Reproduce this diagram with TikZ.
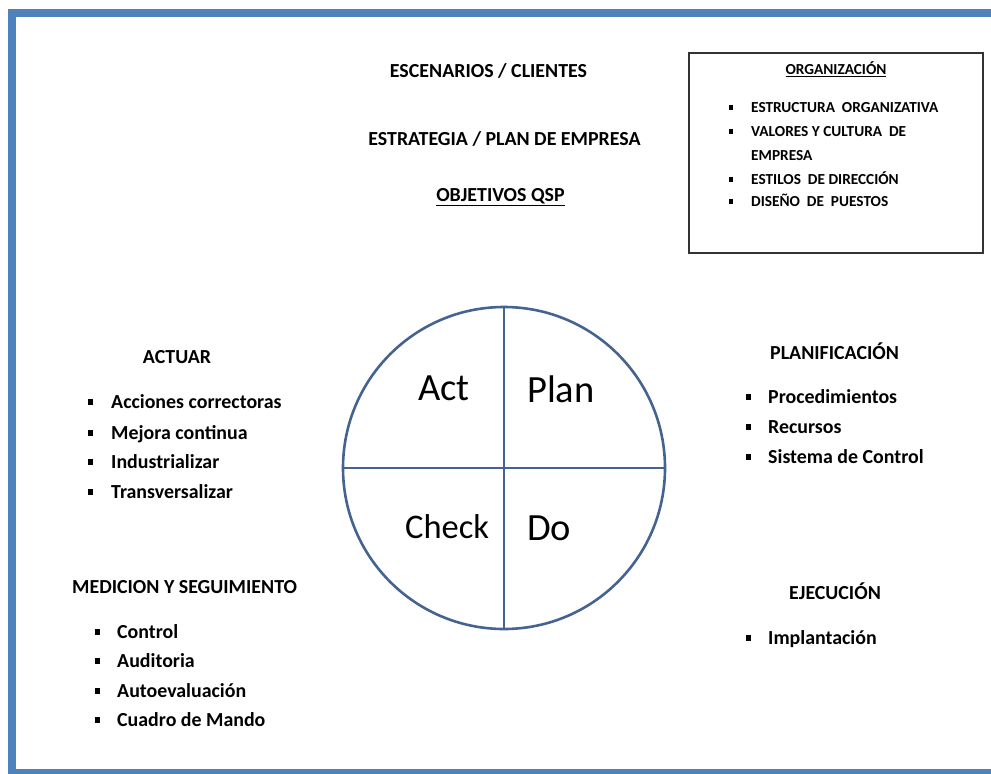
\documentclass[tikz,border=0pt]{standalone}
\usepackage{fontspec}
\setmainfont{Carlito}
\definecolor{frameblue}{RGB}{79,129,189}
\definecolor{circblue}{RGB}{68,100,143}
\tikzset{
 hd/.style={font=\fontsize{19.9}{23}\selectfont\bfseries, inner sep=0pt},
 itm/.style={font=\fontsize{19.9}{23}\selectfont\bfseries, inner sep=0pt, anchor=base west},
 bul/.style={fill=black, inner sep=0pt, minimum width=5pt, minimum height=6pt},
 orgt/.style={font=\fontsize{15.3}{18}\selectfont\bfseries, inner sep=0pt, anchor=base west},
 obul/.style={fill=black, inner sep=0pt, minimum width=4pt, minimum height=5pt},
 pdca/.style={font=\fontsize{38.5}{40}\selectfont, inner sep=0pt, anchor=base west},
}
\begin{document}
\begin{tikzpicture}[x=1pt,y=-1pt]
\useasboundingbox (0,0) rectangle (991,774);
% frame
\fill[frameblue] (8,9) rectangle (991,17);
\fill[frameblue] (8,9) rectangle (16,774);
\fill[frameblue] (8,769) rectangle (991,774);
% top texts
\node[hd, anchor=base] (esc) at (488.5,77.3) {ESCENARIOS / CLIENTES};
\node[hd, anchor=base] (est) at (504.5,145.3) {ESTRATEGIA / PLAN DE EMPRESA};
\node[hd, anchor=base] (obj) at (500.5,201.3) {\underline{OBJETIVOS QSP}};
% organization box
\node[draw=black!80, line width=1.6pt, minimum width=294pt, minimum height=200pt, inner sep=0pt] (orgbox) at (836,153) {};
\node[orgt, anchor=base] (orgtitle) at (836,74.8) {\underline{ORGANIZACIÓN}};
\node[obul] (ob1) at (731,107) {};
\node[orgt] (o1) at (751,112) {ESTRUCTURA\ \ ORGANIZATIVA};
\node[obul] (ob2) at (731,131) {};
\node[orgt] (o2) at (751,136) {VALORES Y CULTURA\ \ DE};
\node[orgt] (o2b) at (751,160) {EMPRESA};
\node[obul] (ob3) at (731,179) {};
\node[orgt] (o3) at (751,184) {ESTILOS\ \ DE DIRECCIÓN};
\node[obul] (ob4) at (731,201) {};
\node[orgt] (o4) at (751,206) {DISEÑO\ \ DE\ \ PUESTOS};
% circle
\node[circle, draw=circblue, line width=2.6pt, minimum size=322pt, inner sep=0pt] (c) at (504,468) {};
\draw[circblue, line width=2.6pt] (c.north) -- (c.south);
\draw[circblue, line width=2.6pt] (c.west) -- (c.east);
\node[pdca] (act) at (418,400) {Act};
\node[pdca] (plan) at (527,402) {Plan};
\node[pdca, font=\fontsize{34.5}{36}\selectfont] (check) at (405,538) {Check};
\node[pdca] (do) at (527,540) {Do};
% ACTUAR
\node[hd, anchor=base] (actuar) at (177,363.3) {ACTUAR};
\node[bul] (ab1) at (90,402) {};
\node[itm] (a1) at (111,408) {Acciones correctoras};
\node[bul] (ab2) at (90,433) {};
\node[itm] (a2) at (111,439) {Mejora continua};
\node[bul] (ab3) at (90,462) {};
\node[itm] (a3) at (111,468) {Industrializar};
\node[bul] (ab4) at (90,492) {};
\node[itm] (a4) at (111,498) {Transversalizar};
% MEDICION
\node[hd, anchor=base west] (med) at (72,593.3) {MEDICION Y SEGUIMIENTO};
\node[bul] (mb1) at (97,632) {};
\node[itm] (m1) at (117,638) {Control};
\node[bul] (mb2) at (97,661) {};
\node[itm] (m2) at (117,667) {Auditoria};
\node[bul] (mb3) at (97,691) {};
\node[itm] (m3) at (117,697) {Autoevaluación};
\node[bul] (mb4) at (97,720) {};
\node[itm] (m4) at (117,726) {Cuadro de Mando};
% PLANIFICACION
\node[hd, anchor=base west] (plani) at (770,359.3) {PLANIFICACIÓN};
\node[bul] (pb1) at (748,397) {};
\node[itm] (p1) at (768,403) {Procedimientos};
\node[bul] (pb2) at (748,427) {};
\node[itm] (p2) at (768,433) {Recursos};
\node[bul] (pb3) at (748,457) {};
\node[itm] (p3) at (768,463) {Sistema de Control};
% EJECUCION
\node[hd, anchor=base west] (eje) at (789,599.3) {EJECUCIÓN};
\node[bul] (eb1) at (748,638) {};
\node[itm] (e1) at (768,644) {Implantación};
\end{tikzpicture}
\end{document}
